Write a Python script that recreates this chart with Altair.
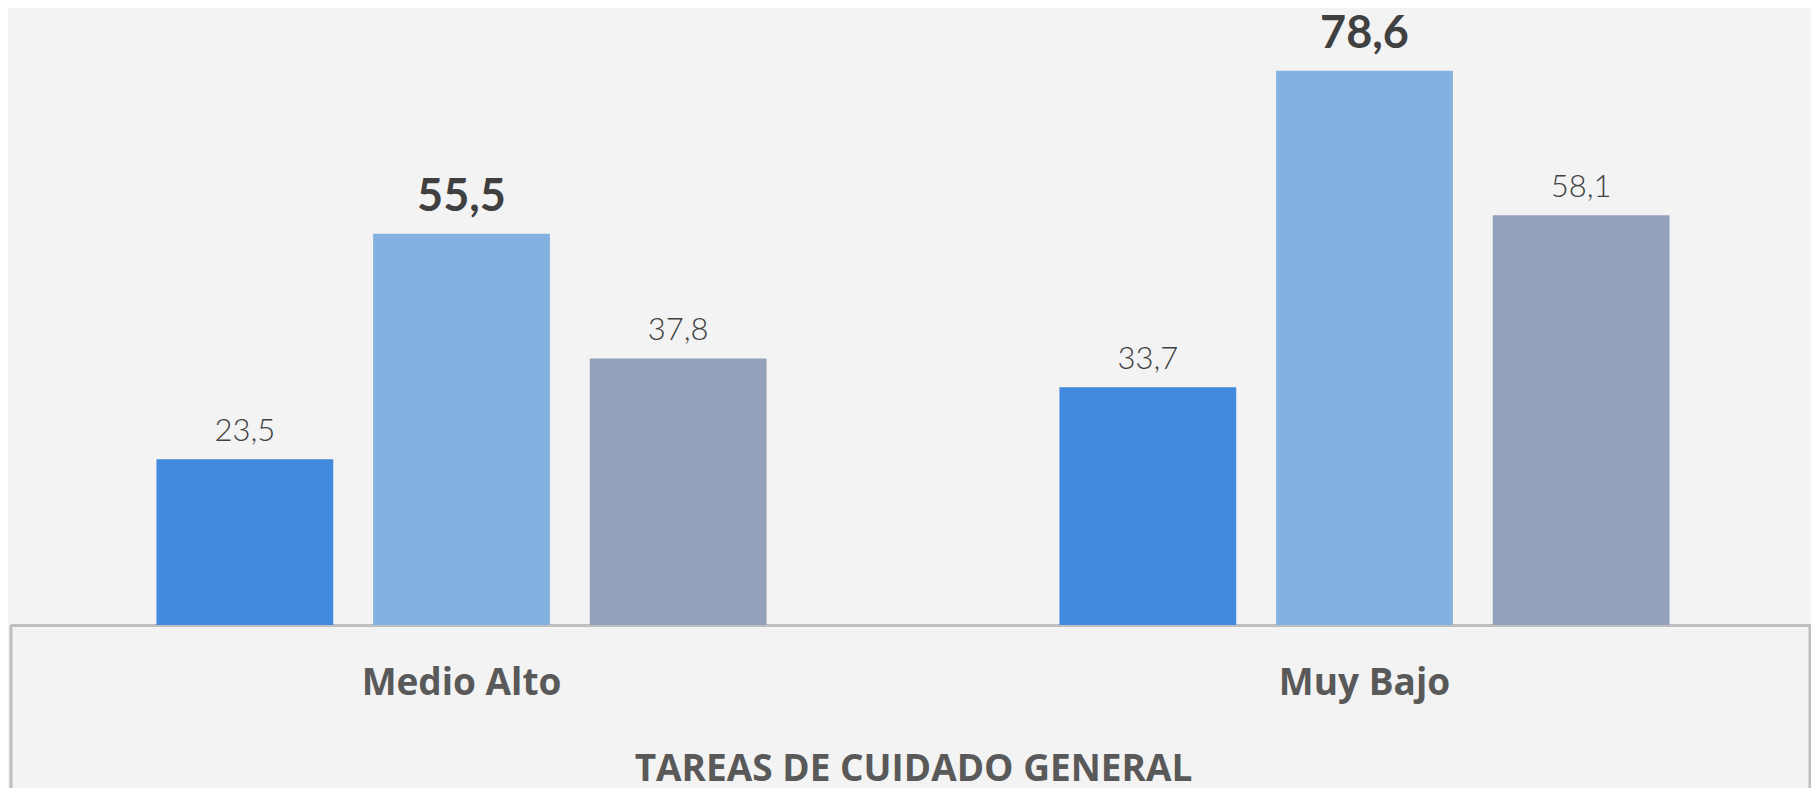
import altair as alt
import pandas as pd

# Data
grupos = ["Medio Alto", "Muy Bajo"]
series = ["Serie 1", "Serie 2", "Serie 3"]
serie1 = [23.5, 33.7]
serie2 = [55.5, 78.6]
serie3 = [37.8, 58.1]
titulo_eje = "TAREAS DE CUIDADO GENERAL"

rows = []
for i, g in enumerate(grupos):
    for s, vals in zip(series, [serie1, serie2, serie3]):
        rows.append({"grupo": g, "serie": s, "valor": vals[i]})
df = pd.DataFrame(rows)

colores = ["#4089dc", "#84b2e0", "#94a1ba"]

x_enc = alt.X(
    "grupo:N",
    sort=grupos,
    scale=alt.Scale(range=[0, 1806], paddingInner=0, paddingOuter=0),
    axis=alt.Axis(
        title=titulo_eje,
        labelAngle=0,
        ticks=False,
        tickSize=0,
        labelPadding=69,
        labelLimit=0,
        labelBaseline="alphabetic",
        labelFont="Open Sans",
        labelFontWeight="bold",
        labelFontSize=37,
        labelColor="#595959",
        titleFont="Open Sans",
        titleFontWeight="bold",
        titleFontSize=37,
        titleColor="#595959",
        titleY=155,
        titleLimit=0,
        titleBaseline="alphabetic",
        domainColor="#bfbfbf",
        domainWidth=3,
        grid=False,
    ),
)
xoff_enc = alt.XOffset(
    "serie:N", sort=series, scale=alt.Scale(paddingInner=0.184, paddingOuter=0.676)
)
y_enc = alt.Y("valor:Q", scale=alt.Scale(domain=[0, 87.5], nice=False), axis=None)

base = alt.Chart(df).transform_calculate(
    etiqueta="replace(format(datum.valor, '.1f'), '.', ',')"
)

bars = base.mark_bar().encode(
    x=x_enc,
    xOffset=xoff_enc,
    y=y_enc,
    color=alt.Color("serie:N", scale=alt.Scale(domain=series, range=colores), legend=None),
)

txt_normal = base.transform_filter(alt.datum.serie != "Serie 2").mark_text(
    font="Lato", fontWeight=300, fontSize=31, baseline="alphabetic", dy=-18, color="#404040"
).encode(x=x_enc, xOffset=xoff_enc, y=y_enc, text="etiqueta:N")

txt_bold = base.transform_filter(alt.datum.serie == "Serie 2").mark_text(
    font="Lato", fontWeight="bold", fontSize=45, baseline="alphabetic", dy=-23, color="#404040"
).encode(x=x_enc, xOffset=xoff_enc, y=y_enc, text="etiqueta:N")

uno = pd.DataFrame({"k": [0]})
borde_izq = alt.Chart(uno).mark_rule(color="#bfbfbf", strokeWidth=3).encode(
    x=alt.value(1), y=alt.value(617), y2=alt.value(800)
)
borde_der = alt.Chart(uno).mark_rule(color="#bfbfbf", strokeWidth=3).encode(
    x=alt.value(1800), y=alt.value(617), y2=alt.value(800)
)

chart = (
    alt.layer(bars, txt_normal, txt_bold, borde_izq, borde_der)
    .properties(
        width=1799,
        height=617,
        autosize=alt.AutoSizeParams(type="none"),
        padding={"left": 2, "top": 0, "right": 2, "bottom": 163},
    )
    .configure(background="#f3f3f3")
    .configure_view(stroke=None)
)

chart.save("out.html", embed_options={"renderer": "svg", "actions": False})
